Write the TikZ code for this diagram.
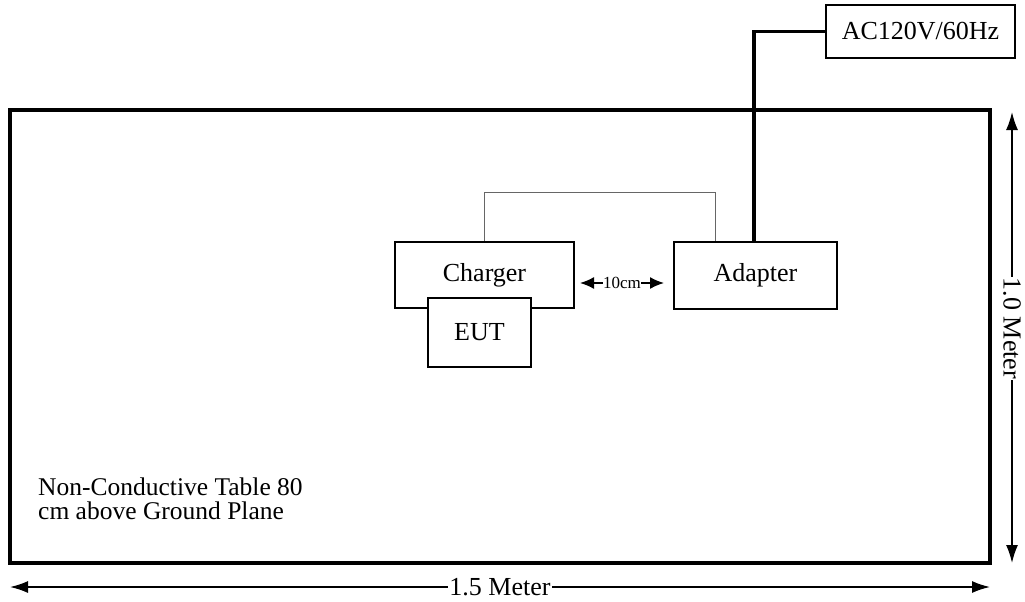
\documentclass[tikz,border=0pt]{standalone}
\usepackage{fontspec}
\setmainfont{Liberation Serif}
\usetikzlibrary{arrows.meta,positioning}
\begin{document}
\begin{tikzpicture}[x=1pt,y=-1pt,
  box/.style={draw,line width=2pt,fill=white,rectangle,inner sep=0pt,font=\fontsize{26}{29}\selectfont},
  table/.style={draw,line width=3.2pt,rectangle,inner sep=0pt},
  power/.style={line width=3.5pt},
  signal/.style={line width=1pt,black!60},
  dim/.style={line width=1.6pt,{Latex[length=18pt,width=12pt]}-{Latex[length=18pt,width=12pt]}},
  small/.style={line width=1.6pt,{Latex[length=14pt,width=12pt]}-{Latex[length=14pt,width=12pt]}},
  lbl/.style={font=\fontsize{26}{29}\selectfont,fill=white,inner sep=1pt}]
\useasboundingbox (0,0) rectangle (1025,602);
\node[table,minimum width=980pt,minimum height=453pt] (tab) at (500,336.5) {};
\node[box,minimum width=189pt,minimum height=53pt] (ac) at (920.5,31.5) {AC120V/60Hz};
\node[box,minimum width=163pt,minimum height=67pt] (adapter) at (755.5,275.5) {Adapter};
\node[box,minimum width=179pt,minimum height=66pt] (charger) at (484.5,275) {Charger};
\node[box,minimum width=103pt,minimum height=69pt] (eut) at (479.5,332.5) {EUT};
% wires
\draw[power] (ac.west) -| ([xshift=-1.5pt]adapter.north);
\draw[signal] (charger.north) -- ++(0,-49) -| ([xshift=42pt]adapter.north west);
% 10cm spacing
\coordinate (s1) at (580,283);
\coordinate (s2) at (664,283);
\draw[small] (s1) -- (s2) node[midway,fill=white,inner sep=0.5pt,font=\fontsize{17}{19}\selectfont] (d10) {10cm};
% table dimensions
\coordinate (b1) at (10,587);
\coordinate (b2) at (990,587);
\draw[dim] (b1) -- (b2) node[lbl,midway] (w) {1.5 Meter};
\coordinate (r1) at (1012,112);
\coordinate (r2) at (1012,563);
\draw[dim] (r1) -- (r2) node[lbl,pos=0.48,rotate=-90] (h) {1.0 Meter};
% table label
\node[anchor=north west,align=left,inner sep=0pt,font=\fontsize{25.5}{24}\selectfont] (note) at (38,478) {Non-Conductive Table 80\\cm above Ground Plane};
\end{tikzpicture}
\end{document}
